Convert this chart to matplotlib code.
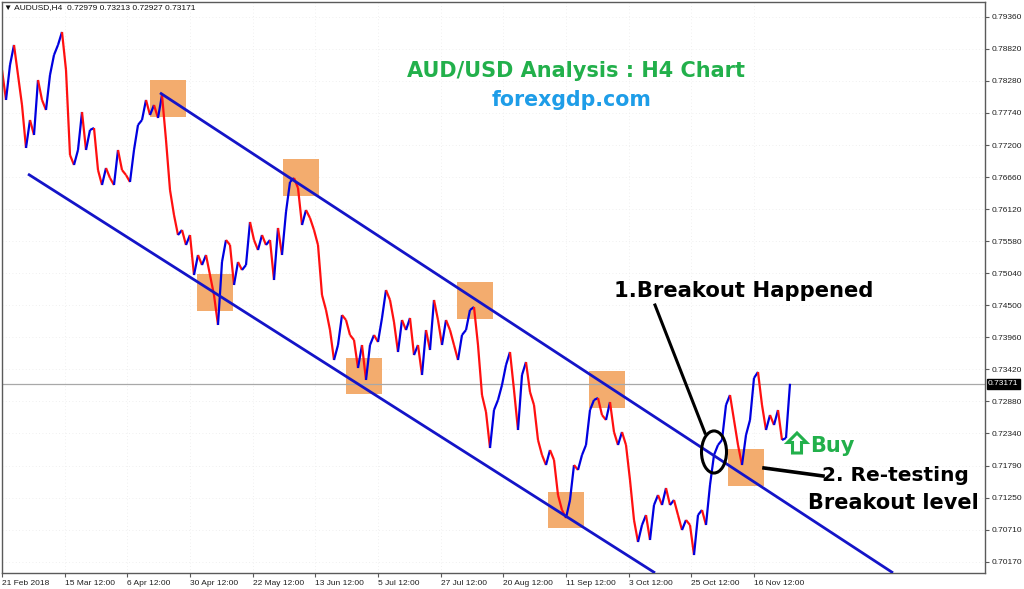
import numpy as np
import matplotlib.pyplot as plt
from matplotlib.collections import LineCollection
from matplotlib.patches import Rectangle, Ellipse, Polygon
import matplotlib.transforms as mtransforms

# AUDUSD H4 price path (swing highs / lows, left to right)
prices = [
    0.78466, 0.77960, 0.78550, 0.78888, 0.78381, 0.77875, 0.77150, 0.77622, 0.77369, 0.78297,
    0.77960, 0.77791, 0.78381, 0.78719, 0.78888, 0.79107, 0.78466, 0.77031, 0.76863, 0.77116,
    0.77757, 0.77116, 0.77453, 0.77487, 0.76778, 0.76525, 0.76812, 0.76643, 0.76525, 0.77116,
    0.76778, 0.76694, 0.76576, 0.77116, 0.77538, 0.77622, 0.77960, 0.77706, 0.77875, 0.77656,
    0.78044, 0.77285, 0.76441, 0.76019, 0.75681, 0.75766, 0.75513, 0.75681, 0.75006, 0.75344,
    0.75175, 0.75344, 0.75006, 0.74669, 0.74163, 0.75226, 0.75597, 0.75513, 0.74838, 0.75226,
    0.75091, 0.75175, 0.75901, 0.75597, 0.75428, 0.75681, 0.75513, 0.75597, 0.74922, 0.75800,
    0.75344, 0.76070, 0.76576, 0.76643, 0.76475, 0.75850, 0.76103, 0.75968, 0.75766, 0.75513,
    0.74669, 0.74416, 0.74078, 0.73572, 0.73825, 0.74331, 0.74247, 0.73994, 0.73910, 0.73437,
    0.73825, 0.73235, 0.73825, 0.73994, 0.73876, 0.74281, 0.74753, 0.74585, 0.74213, 0.73707,
    0.74247, 0.74078, 0.74281, 0.73656, 0.73825, 0.73319, 0.74078, 0.73741, 0.74585, 0.74247,
    0.73825, 0.74247, 0.74078, 0.73825, 0.73572, 0.73994, 0.74078, 0.74416, 0.74466, 0.73825,
    0.72981, 0.72695, 0.72087, 0.72728, 0.72897, 0.73150, 0.73488, 0.73707, 0.73066, 0.72391,
    0.73319, 0.73538, 0.73032, 0.72813, 0.72222, 0.71969, 0.71800, 0.72053, 0.71885, 0.71294,
    0.71041, 0.70906, 0.71210, 0.71800, 0.71716, 0.71969, 0.72138, 0.72728, 0.72897, 0.72931,
    0.72644, 0.72560, 0.72863, 0.72357, 0.72138, 0.72357, 0.72138, 0.71547, 0.70872, 0.70501,
    0.70788, 0.70956, 0.70535, 0.71125, 0.71294, 0.71125, 0.71412, 0.71125, 0.71210, 0.70956,
    0.70703, 0.70872, 0.70788, 0.70281, 0.70956, 0.71041, 0.70788, 0.71463, 0.71969, 0.72138,
    0.72222, 0.72813, 0.72981, 0.72560, 0.72138, 0.71800, 0.72306, 0.72560, 0.73268, 0.73370,
    0.72813, 0.72391, 0.72644, 0.72475, 0.72728, 0.72222, 0.72256, 0.73171,
]
last_price = 0.73171
header = "AUDUSD,H4  0.72979 0.73213 0.72927 0.73171"

price_ticks = [0.79360, 0.78820, 0.78280, 0.77740, 0.77200, 0.76660, 0.76120, 0.75580, 0.75040,
               0.74500, 0.73960, 0.73420, 0.72880, 0.72340, 0.71790, 0.71250, 0.70710, 0.70170]
date_labels = ["21 Feb 2018", "15 Mar 12:00", "6 Apr 12:00", "30 Apr 12:00", "22 May 12:00",
               "13 Jun 12:00", "5 Jul 12:00", "27 Jul 12:00", "20 Aug 12:00", "11 Sep 12:00",
               "3 Oct 12:00", "25 Oct 12:00", "16 Nov 12:00"]
date_step = 15.67  # path points between date labels

# channel lines: (point index, price)
upper_channel = [(39.5, 0.7808), (222.75, 0.6998)]
lower_channel = [(6.5, 0.7671), (163.25, 0.6998)]

# orange touch zones: left index, top price
touch_boxes = [(37, 0.7830), (70.25, 0.7696), (48.75, 0.7502), (86, 0.7361),
               (113.75, 0.7489), (146.75, 0.7339), (136.5, 0.7135), (181.5, 0.7207)]
box_w, box_h = 9, 0.0062

GREEN = "#22B04B"
BLUE_TXT = "#1E9DE8"
ORANGE = "#F3A866"
CHANNEL = "#1414C8"
BIG = dict(family="DejaVu Sans", weight="bold", va="baseline")


def fig_xy(px, py):
    return px / 1024, 1 - py / 589


fig = plt.figure(figsize=(10.24, 5.89), dpi=100)
ax = fig.add_axes([2 / 1024, 16 / 589, 983 / 1024, 571 / 589])
ax.set_xlim(0, 245.75)
ax.set_ylim(0.69978, 0.79613)

# faint MT4 style grid
for t in price_ticks:
    ax.axhline(t, color="#EBEBEB", lw=0.6, ls=(0, (1, 3)), zorder=0)
for i in range(len(date_labels)):
    ax.axvline(i * date_step, color="#EBEBEB", lw=0.6, ls=(0, (1, 3)), zorder=0)

for left, top in touch_boxes:
    ax.add_patch(Rectangle((left, top - box_h), box_w, box_h, facecolor=ORANGE,
                           edgecolor="none", alpha=0.95, zorder=1))

ax.axhline(last_price, color="#A8A8A8", lw=0.9, zorder=1.5)

# price path, red for falling legs, blue for rising legs
x = np.arange(len(prices))
y = np.array(prices)
pts = np.column_stack([x, y]).reshape(-1, 1, 2)
segs = np.concatenate([pts[:-1], pts[1:]], axis=1)
cols = ["#0000E0" if y[i + 1] >= y[i] else "#FF1010" for i in range(len(y) - 1)]
ax.add_collection(LineCollection(segs, colors=cols, linewidths=1.6, zorder=2))

for (x0, y0), (x1, y1) in [upper_channel, lower_channel]:
    ax.plot([x0, x1], [y0, y1], color=CHANNEL, lw=2.0, zorder=3, solid_capstyle="butt")

# breakout circle and pointers
ax.add_patch(Ellipse((178, 0.7202), 6.25, 0.0071, fill=False, edgecolor="black", lw=2.2, zorder=4))
ax.plot([163.25, 175.75], [0.7450, 0.7234], color="black", lw=2.2, zorder=4)
ax.plot([190.5, 205.25], [0.7175, 0.71615], color="black", lw=2.6, zorder=4)

# axes styling
for s in ax.spines.values():
    s.set_color("#5A5A5A")
    s.set_linewidth(1.0)
ax.yaxis.tick_right()
ax.set_yticks(price_ticks)
ax.set_yticklabels([f"{t:.5f}" for t in price_ticks])
ax.set_xticks(np.arange(len(date_labels)) * date_step)
ax.set_xticklabels(date_labels, ha="left")
ax.tick_params(axis="both", direction="out", length=3, color="#5A5A5A",
               labelsize=6, labelcolor="#202020", pad=2)
for lab in ax.get_xticklabels() + ax.get_yticklabels():
    lab.set_fontfamily("Liberation Sans")

ax.text(1.003, last_price, f"{last_price:.5f}", transform=mtransforms.blended_transform_factory(ax.transAxes, ax.transData),
        ha="left", va="center", fontsize=6, color="white", family="Liberation Sans",
        bbox=dict(boxstyle="square,pad=0.15", facecolor="black", edgecolor="black"))

fig.text(*fig_xy(4, 8), "\u25bc " + header, fontsize=6, family=["Liberation Sans", "DejaVu Sans"],
         color="#101010", ha="left", va="center")

fig.text(*fig_xy(576, 77), "AUD/USD Analysis : H4 Chart", fontsize=15, color=GREEN, ha="center", **BIG)
fig.text(*fig_xy(572, 106), "forexgdp.com", fontsize=14.8, color=BLUE_TXT, ha="center", **BIG)
fig.text(*fig_xy(614, 297), "1.Breakout Happened", fontsize=15.2, color="black", ha="left", **BIG)
fig.text(*fig_xy(810, 452), "Buy", fontsize=15, color=GREEN, ha="left", **BIG)
fig.text(*fig_xy(822, 481), "2. Re-testing", fontsize=14.5, color="black", ha="left", **BIG)
fig.text(*fig_xy(808, 509), "Breakout level", fontsize=15, color="black", ha="left", **BIG)

# hollow up arrow next to "Buy"
arrow_px = [(797, 433), (806.5, 442.5), (801.5, 442.5), (801.5, 453), (792.5, 453),
            (792.5, 442.5), (787.5, 442.5)]
fig.patches.append(Polygon([fig_xy(px, py) for px, py in arrow_px], closed=True,
                           transform=fig.transFigure, facecolor="white", edgecolor=GREEN,
                           lw=2.2, joinstyle="miter", zorder=5))

fig.savefig("out.png", dpi=100, facecolor="white")
